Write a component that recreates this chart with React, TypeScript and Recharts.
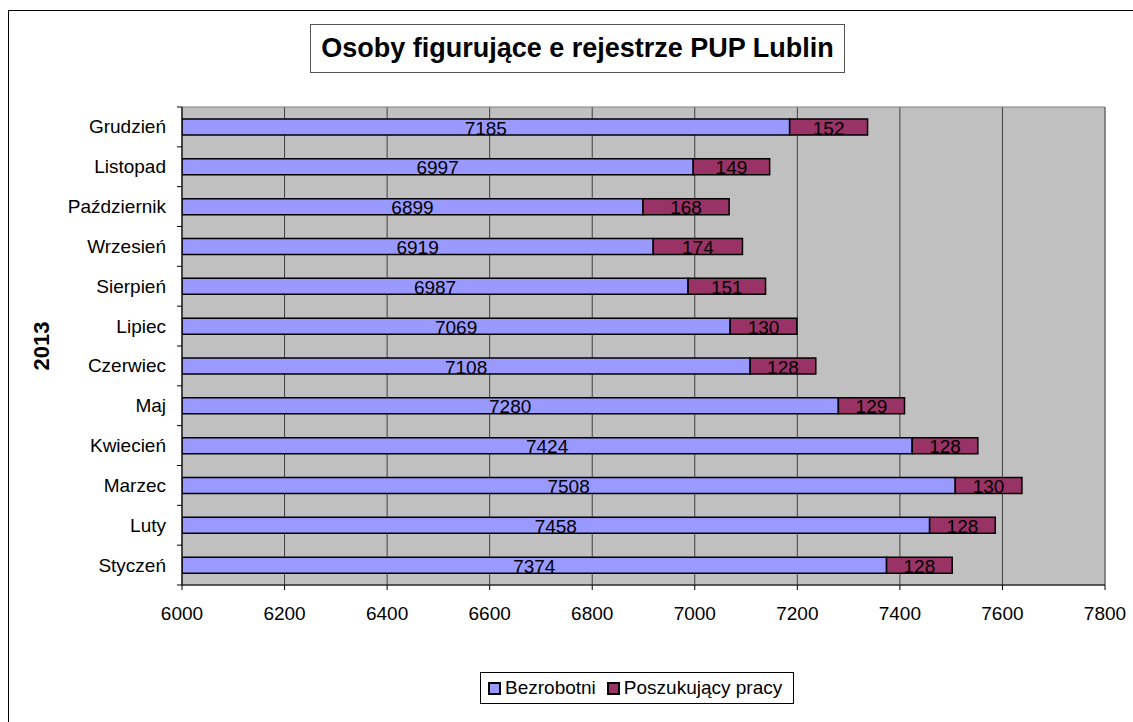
import { BarChart, Bar, XAxis, YAxis, CartesianGrid, LabelList, ReferenceArea } from 'recharts';

const months = ['Styczeń', 'Luty', 'Marzec', 'Kwiecień', 'Maj', 'Czerwiec', 'Lipiec', 'Sierpień', 'Wrzesień', 'Październik', 'Listopad', 'Grudzień'];
const bezrobotni = [7374, 7458, 7508, 7424, 7280, 7108, 7069, 6987, 6919, 6899, 6997, 7185];
const poszukujacy = [128, 128, 130, 128, 129, 128, 130, 151, 174, 168, 149, 152];
const xTicks = [6000, 6200, 6400, 6600, 6800, 7000, 7200, 7400, 7600, 7800];

const FONT = 'Arial, "Liberation Sans", sans-serif';
const FS = 19;
const PLOT_LEFT = 182;
const PLOT_TOP = 107;
const PLOT_BOTTOM = 585;
const BAND_HALF = (PLOT_BOTTOM - PLOT_TOP) / months.length / 2;

const data = months.map((m, i) => ({
  month: m,
  bezrobotni: bezrobotni[i],
  poszukujacy: poszukujacy[i],
}));

// label centred on the visible part of the bar
const BarLabel = (props: any) => {
  const { x, y, width, height, value } = props;
  const left = Math.max(x, PLOT_LEFT);
  const cx = (left + x + width) / 2;
  return (
    <text x={cx} y={y + height / 2 + 1} textAnchor="middle" dominantBaseline="central" fill="#000" fontSize={FS} fontFamily={FONT}>
      {value}
    </text>
  );
};

const MonthTick = (props: any) => {
  const { y, payload, index } = props;
  return (
    <g>
      <line x1={PLOT_LEFT - 5} x2={PLOT_LEFT} y1={y - BAND_HALF} y2={y - BAND_HALF} stroke="#000" />
      {index === 0 && (
        <line x1={PLOT_LEFT - 5} x2={PLOT_LEFT} y1={y + BAND_HALF} y2={y + BAND_HALF} stroke="#000" />
      )}
      <text x={166} y={y} textAnchor="end" dominantBaseline="central" fill="#000" fontSize={FS} fontFamily={FONT}>
        {payload.value}
      </text>
    </g>
  );
};

const legendItems = [
  { name: 'Bezrobotni', color: '#9999FF' },
  { name: 'Poszukujący pracy', color: '#993366' },
];

export default function App() {
  return (
    <div style={{ position: 'absolute', left: 0, top: 0, width: 1133, height: 722, background: '#fff', overflow: 'hidden', fontFamily: FONT }}>
      <div style={{ position: 'absolute', left: 8, top: 10, width: 1200, height: 800, borderLeft: '1px solid #000', borderTop: '1px solid #000' }} />
      <div style={{ position: 'absolute', left: 310, top: 24, width: 535, height: 49, border: '1px solid #555', boxSizing: 'border-box', display: 'flex', alignItems: 'center', justifyContent: 'center', fontWeight: 'bold', fontSize: 27, color: '#000', whiteSpace: 'nowrap' }}>
        Osoby figurujące e rejestrze PUP Lublin
      </div>
      <div style={{ position: 'absolute', left: 42, top: 346, transform: 'translate(-50%, -50%) rotate(-90deg)', fontWeight: 'bold', fontSize: 22, color: '#000' }}>
        2013
      </div>
      <div style={{ position: 'absolute', left: 0, top: 0 }}>
        <BarChart
          width={1133}
          height={722}
          data={data}
          layout="vertical"
          margin={{ top: PLOT_TOP, right: 28, bottom: 97, left: 0 }}
          barSize={16}
        >
          <CartesianGrid horizontal={false} vertical={true} stroke="#404040" fill="#C0C0C0" fillOpacity={1} />
          <ReferenceArea x1={6000} x2={7800} fill="none" stroke="#808080" strokeWidth={1} ifOverflow="visible" />
          <XAxis
            type="number"
            domain={[6000, 7800]}
            ticks={xTicks}
            allowDataOverflow
            height={40}
            tickSize={5}
            tickMargin={17}
            stroke="#000"
            tick={{ fill: '#000', fontSize: FS, fontFamily: FONT }}
            interval={0}
          />
          <YAxis
            type="category"
            dataKey="month"
            reversed
            width={PLOT_LEFT}
            tickLine={false}
            stroke="#000"
            tick={<MonthTick />}
            interval={0}
          />
          <Bar dataKey="bezrobotni" name="Bezrobotni" stackId="a" fill="#9999FF" stroke="#000" strokeWidth={1.5} isAnimationActive={false}>
            <LabelList dataKey="bezrobotni" content={<BarLabel />} />
          </Bar>
          <Bar dataKey="poszukujacy" name="Poszukujący pracy" stackId="a" fill="#993366" stroke="#000" strokeWidth={1.5} isAnimationActive={false}>
            <LabelList dataKey="poszukujacy" content={<BarLabel />} />
          </Bar>
        </BarChart>
      </div>
      <div style={{ position: 'absolute', left: 480, top: 672, width: 314, height: 32, boxSizing: 'border-box', display: 'flex', alignItems: 'center', border: '1px solid #000', background: '#fff', padding: '0 0 0 7px', fontSize: FS, color: '#000', whiteSpace: 'nowrap' }}>
        {legendItems.map((it, i) => (
          <span key={it.name} style={{ display: 'inline-flex', alignItems: 'center', marginRight: i === 0 ? 11 : 0 }}>
            <span style={{ display: 'inline-block', width: 9, height: 9, background: it.color, border: '2px solid #000', marginRight: 4 }} />
            {it.name}
          </span>
        ))}
      </div>
    </div>
  );
}
